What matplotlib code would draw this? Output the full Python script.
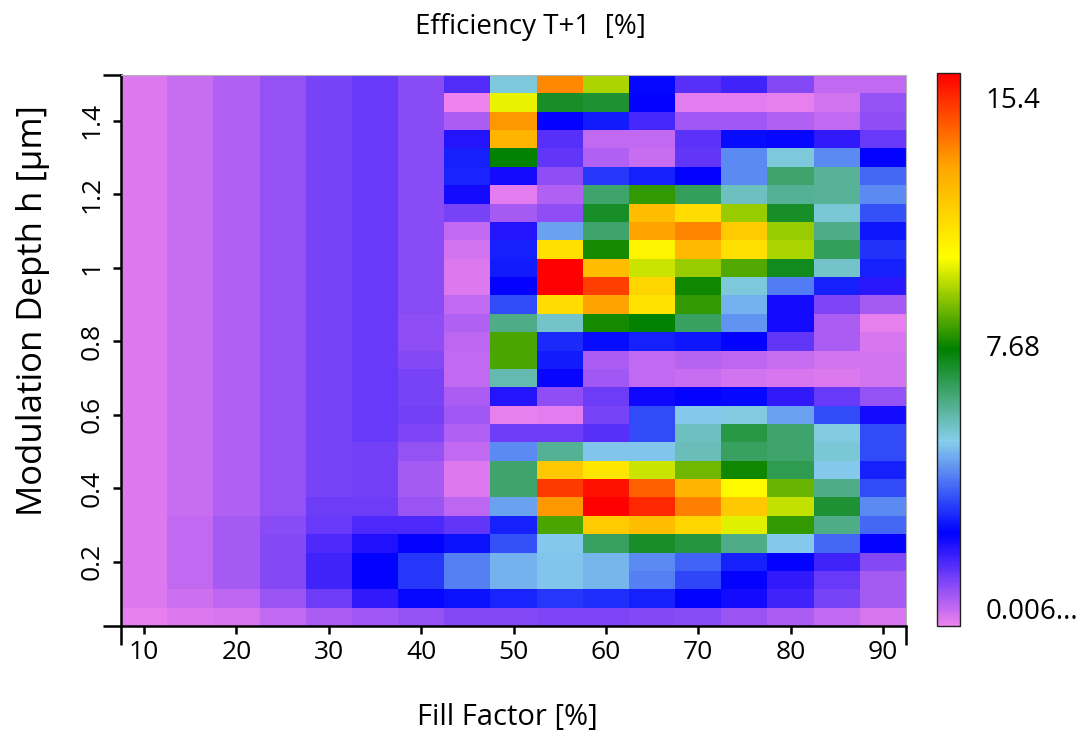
import numpy as np
import matplotlib
matplotlib.use('Agg')
import matplotlib.pyplot as plt
import matplotlib.colors as mcolors

plt.rcParams['font.family'] = ['Open Sans', 'DejaVu Sans']

# fill factor [%] (column centres) and modulation depth h [um] (row centres, top to bottom)
fill_factor = [10, 15, 20, 25, 30, 35, 40, 45, 50, 55, 60, 65, 70, 75, 80, 85, 90]
depth = [1.5, 1.45, 1.4, 1.35, 1.3, 1.25, 1.2, 1.15, 1.1, 1.05,
         1.0, 0.95, 0.9, 0.85, 0.8, 0.75, 0.7, 0.65, 0.6, 0.55,
         0.5, 0.45, 0.4, 0.35, 0.3, 0.25, 0.2, 0.15, 0.1, 0.05]

# efficiency T+1 [%], one row per depth value
efficiency = [
    [0.2, 0.45, 0.7, 1.0, 1.3, 1.5, 1.1, 1.7, 5.3, 13.2, 9.4, 2.7, 1.65, 1.9, 1.2, 0.5, 0.5],
    [0.2, 0.45, 0.7, 1.0, 1.3, 1.5, 1.1, 0.05, 10.0, 7.2, 7.1, 2.56, 0.15, 0.15, 0.12, 0.35, 1.0],
    [0.2, 0.45, 0.7, 1.0, 1.3, 1.5, 1.1, 0.75, 13.0, 2.56, 2.9, 1.85, 0.85, 0.85, 0.7, 0.5, 1.05],
    [0.2, 0.45, 0.7, 1.0, 1.3, 1.5, 1.1, 2.2, 12.3, 1.65, 0.5, 0.5, 1.6, 2.75, 2.65, 2.1, 1.5],
    [0.2, 0.45, 0.7, 1.0, 1.3, 1.5, 1.1, 3.0, 7.7, 1.55, 0.7, 0.45, 1.55, 4.3, 5.3, 4.3, 2.56],
    [0.2, 0.45, 0.7, 1.0, 1.3, 1.5, 1.1, 3.05, 2.35, 1.05, 3.25, 3.0, 2.56, 4.3, 6.5, 6.0, 3.9],
    [0.2, 0.45, 0.7, 1.0, 1.3, 1.5, 1.1, 2.4, 0.15, 0.7, 6.5, 8.2, 6.7, 5.6, 6.1, 6.0, 4.3],
    [0.2, 0.45, 0.7, 1.0, 1.3, 1.5, 1.1, 1.3, 0.8, 1.05, 7.2, 12.1, 11.2, 9.2, 7.2, 5.4, 3.6],
    [0.2, 0.45, 0.7, 1.0, 1.3, 1.5, 1.1, 0.5, 2.2, 4.6, 6.5, 12.8, 13.3, 11.7, 9.2, 6.2, 2.85],
    [0.2, 0.45, 0.7, 1.0, 1.3, 1.5, 1.1, 0.35, 3.0, 11.1, 7.9, 10.5, 12.2, 11.1, 9.4, 6.7, 3.2],
    [0.2, 0.45, 0.7, 1.0, 1.3, 1.5, 1.1, 0.2, 2.9, 15.35, 12.1, 9.7, 9.2, 8.5, 7.35, 5.5, 2.95],
    [0.2, 0.45, 0.7, 1.0, 1.3, 1.5, 1.1, 0.22, 2.56, 15.3, 14.35, 11.4, 7.8, 5.3, 4.1, 2.95, 2.15],
    [0.2, 0.45, 0.7, 1.0, 1.3, 1.5, 1.1, 0.5, 3.5, 11.2, 12.8, 11.0, 8.2, 4.75, 2.4, 1.25, 0.8],
    [0.2, 0.45, 0.7, 1.0, 1.3, 1.5, 1.05, 0.7, 6.2, 5.5, 7.9, 7.7, 6.6, 4.4, 2.4, 0.75, 0.12],
    [0.2, 0.45, 0.7, 1.0, 1.3, 1.5, 1.05, 0.6, 8.4, 3.1, 2.75, 3.0, 2.85, 2.56, 1.55, 0.75, 0.25],
    [0.2, 0.45, 0.7, 1.0, 1.3, 1.5, 1.2, 0.5, 8.4, 2.9, 0.75, 0.5, 0.65, 0.6, 0.45, 0.35, 0.35],
    [0.2, 0.45, 0.7, 1.0, 1.3, 1.5, 1.3, 0.5, 5.8, 2.5, 0.9, 0.5, 0.45, 0.35, 0.3, 0.2, 0.35],
    [0.2, 0.45, 0.7, 1.0, 1.3, 1.5, 1.3, 0.75, 2.2, 1.05, 1.4, 2.45, 2.56, 2.7, 2.1, 1.5, 1.0],
    [0.2, 0.45, 0.7, 1.0, 1.3, 1.5, 1.35, 0.85, 0.12, 0.15, 1.3, 3.5, 5.1, 5.25, 4.6, 3.5, 2.4],
    [0.2, 0.45, 0.7, 1.0, 1.3, 1.45, 1.25, 0.7, 1.4, 1.4, 1.65, 3.5, 5.6, 6.9, 6.5, 5.25, 3.5],
    [0.2, 0.45, 0.7, 1.0, 1.3, 1.35, 1.0, 0.5, 4.3, 6.1, 5.0, 5.0, 5.7, 6.6, 6.5, 5.35, 3.5],
    [0.2, 0.45, 0.7, 1.0, 1.3, 1.35, 0.8, 0.2, 6.5, 11.8, 10.95, 9.7, 8.8, 7.8, 6.8, 5.05, 3.0],
    [0.2, 0.45, 0.7, 1.0, 1.3, 1.35, 0.8, 0.2, 6.5, 14.4, 15.1, 13.8, 12.3, 10.4, 8.7, 6.2, 3.5],
    [0.2, 0.45, 0.7, 1.0, 1.4, 1.4, 0.95, 0.6, 4.6, 13.0, 15.35, 14.7, 13.35, 11.8, 9.6, 7.1, 4.3],
    [0.2, 0.5, 0.8, 1.1, 1.45, 1.8, 1.75, 1.55, 3.0, 8.4, 11.7, 12.1, 11.4, 9.9, 8.2, 6.2, 3.9],
    [0.2, 0.5, 0.8, 1.15, 1.8, 2.25, 2.56, 2.8, 3.6, 5.1, 6.6, 7.2, 7.0, 6.2, 5.1, 3.85, 2.56],
    [0.2, 0.5, 0.8, 1.2, 1.9, 2.56, 3.3, 4.2, 4.8, 5.0, 4.85, 4.3, 3.8, 2.95, 2.56, 1.9, 1.2],
    [0.2, 0.5, 0.8, 1.2, 1.9, 2.56, 3.3, 4.2, 4.8, 5.0, 4.85, 4.2, 3.45, 2.56, 2.1, 1.45, 0.8],
    [0.2, 0.4, 0.6, 0.95, 1.4, 2.1, 2.7, 2.8, 3.05, 3.25, 3.15, 3.0, 2.6, 2.4, 1.9, 1.3, 0.8],
    [0.1, 0.2, 0.3, 0.5, 0.75, 0.9, 1.0, 1.2, 1.2, 1.25, 1.25, 1.2, 1.1, 0.95, 0.75, 0.5, 0.3],
]

vmin, vmax = 0.006, 15.35
cbar_labels = ['0.006...', '7.68', '15.4']
x_ticks = [10, 20, 30, 40, 50, 60, 70, 80, 90]
y_ticks = [0.2, 0.4, 0.6, 0.8, 1.0, 1.2, 1.4]
y_ticklabels = ['0.2', '0.4', '0.6', '0.8', '1', '1.2', '1.4']

cmap = mcolors.LinearSegmentedColormap.from_list('eff', [
    (0.0, '#ee82ee'), (1/6, '#0000ff'), (1/3, '#87ceeb'), (0.5, '#008000'),
    (2/3, '#ffff00'), (5/6, '#ffa500'), (1.0, '#ff0000')])

fig = plt.figure(figsize=(10.81, 7.37), dpi=100)
ax = fig.add_axes([121/1081, 1 - 626/737, 785/1081, 551/737])
mesh = ax.pcolormesh(fill_factor, depth, np.array(efficiency), shading='nearest',
                     cmap=cmap, vmin=vmin, vmax=vmax)
ax.set_xlim(7.5, 92.5)
ax.set_ylim(0.025, 1.525)

for s in ['top', 'right']:
  ax.spines[s].set_color('#b4b4b4')
  ax.spines[s].set_linewidth(0.8)
for s in ['left', 'bottom']:
  ax.spines[s].set_color('black')
  ax.spines[s].set_linewidth(1.8)

ax.set_xticks(x_ticks)
ax.set_xticklabels([str(v) for v in x_ticks])
ax.set_yticks(y_ticks)
ax.set_yticklabels(y_ticklabels, rotation=90, va='center')
ax.tick_params(which='major', length=6, width=1.8, color='black', labelsize=19, pad=4)
ax.tick_params(axis='y', which='major', pad=6)
# end marks at the axis limits
ax.set_xticks([7.5, 92.5], minor=True)
ax.set_yticks([0.025, 1.525], minor=True)
ax.tick_params(which='minor', length=14, width=1.8, color='black')
ax.tick_params(axis='y', which='minor', length=13)

fig.text(530/1081, 1 - 27/737, 'Efficiency T+1  [%]', ha='center', va='center', fontsize=20)
fig.text(507/1081, 1 - 718/737, 'Fill Factor [%]', ha='center', va='center', fontsize=21)
fig.text(33/1081, 1 - 311/737, 'Modulation Depth h [µm]', ha='center', va='center',
         rotation=90, fontsize=25)

cax = fig.add_axes([937/1081, 1 - 626/737, 23/1081, 553/737])
cb = fig.colorbar(mesh, cax=cax)
cb.outline.set_linewidth(1.0)
cb.outline.set_edgecolor('#222222')
cax.set_yticks([])
cax.text(2.1, 0.975, cbar_labels[2], transform=cax.transAxes, ha='left', va='top', fontsize=20)
cax.text(2.1, 0.5, cbar_labels[1], transform=cax.transAxes, ha='left', va='center', fontsize=20)
cax.text(2.1, 0.0, cbar_labels[0], transform=cax.transAxes, ha='left', va='bottom', fontsize=20)

fig.savefig('out.png', dpi=100)
